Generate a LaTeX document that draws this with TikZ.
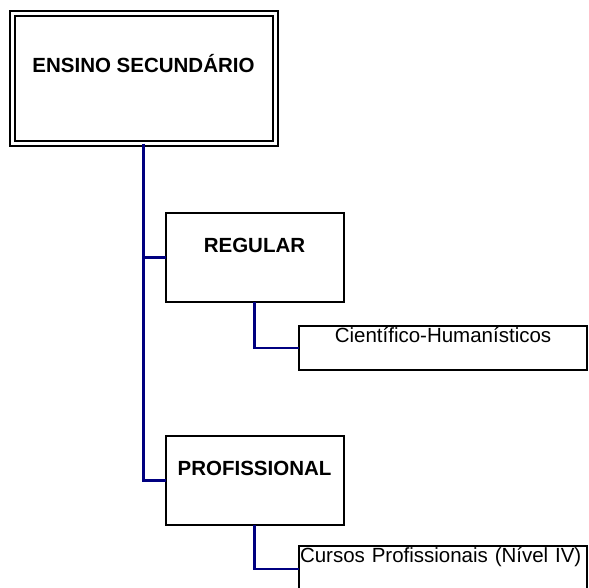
\documentclass[tikz,border=0pt]{standalone}
\usepackage{fontspec}
\setmainfont{Liberation Sans}
\usepackage{xcolor}
\usetikzlibrary{positioning}
\definecolor{navyline}{RGB}{0,0,128}
\tikzset{
    title/.style={rectangle, draw=black, line width=2pt, inner sep=0pt, outer sep=0pt, text centered, font=\fontsize{20.5}{24}\selectfont\bfseries},
    course/.style={rectangle, draw=black, line width=2pt, inner xsep=1pt, inner ysep=0pt, outer sep=0pt, minimum width=288pt, font=\fontsize{20.5}{24}\selectfont},
    link/.style={navyline, line width=2.4pt},
}

\begin{document}
\begin{tikzpicture}[x=1pt, y=-1pt, node distance=20pt]
    \useasboundingbox (0,0) rectangle (589,588);
    \tikzstyle{block} = [title, minimum width=178pt, text height=39pt, text depth=50pt]

    \node [title, double, line width=2pt, double distance=3pt, minimum width=263pt, text height=58.5pt, text depth=71.5pt] (ES) at (143.5,79) {ENSINO SECUNDÁRIO};
    \node [block, below=69pt of ES, xshift=111pt] (REG) {REGULAR};
    \node [course, below=23.5pt of REG, xshift=188.5pt, text height=16.5pt, text depth=28pt] (CH) {Científico-Humanísticos};
    \node [block, below=134pt of REG] (PROF) {PROFISSIONAL};
    \node [course, below=21pt of PROF, xshift=188.5pt, text width=286pt, align=left, text height=16pt, text depth=30pt] (CP) {Cursos Profissionais (Nível IV)};

    \draw [link] (ES.south) |- (REG.west);
    \draw [link] (ES.south) |- (PROF.west);
    \draw [link] (REG.south) |- (CH.west);
    \draw [link] (PROF.south) |- (CP.west);
\end{tikzpicture}
\end{document}
